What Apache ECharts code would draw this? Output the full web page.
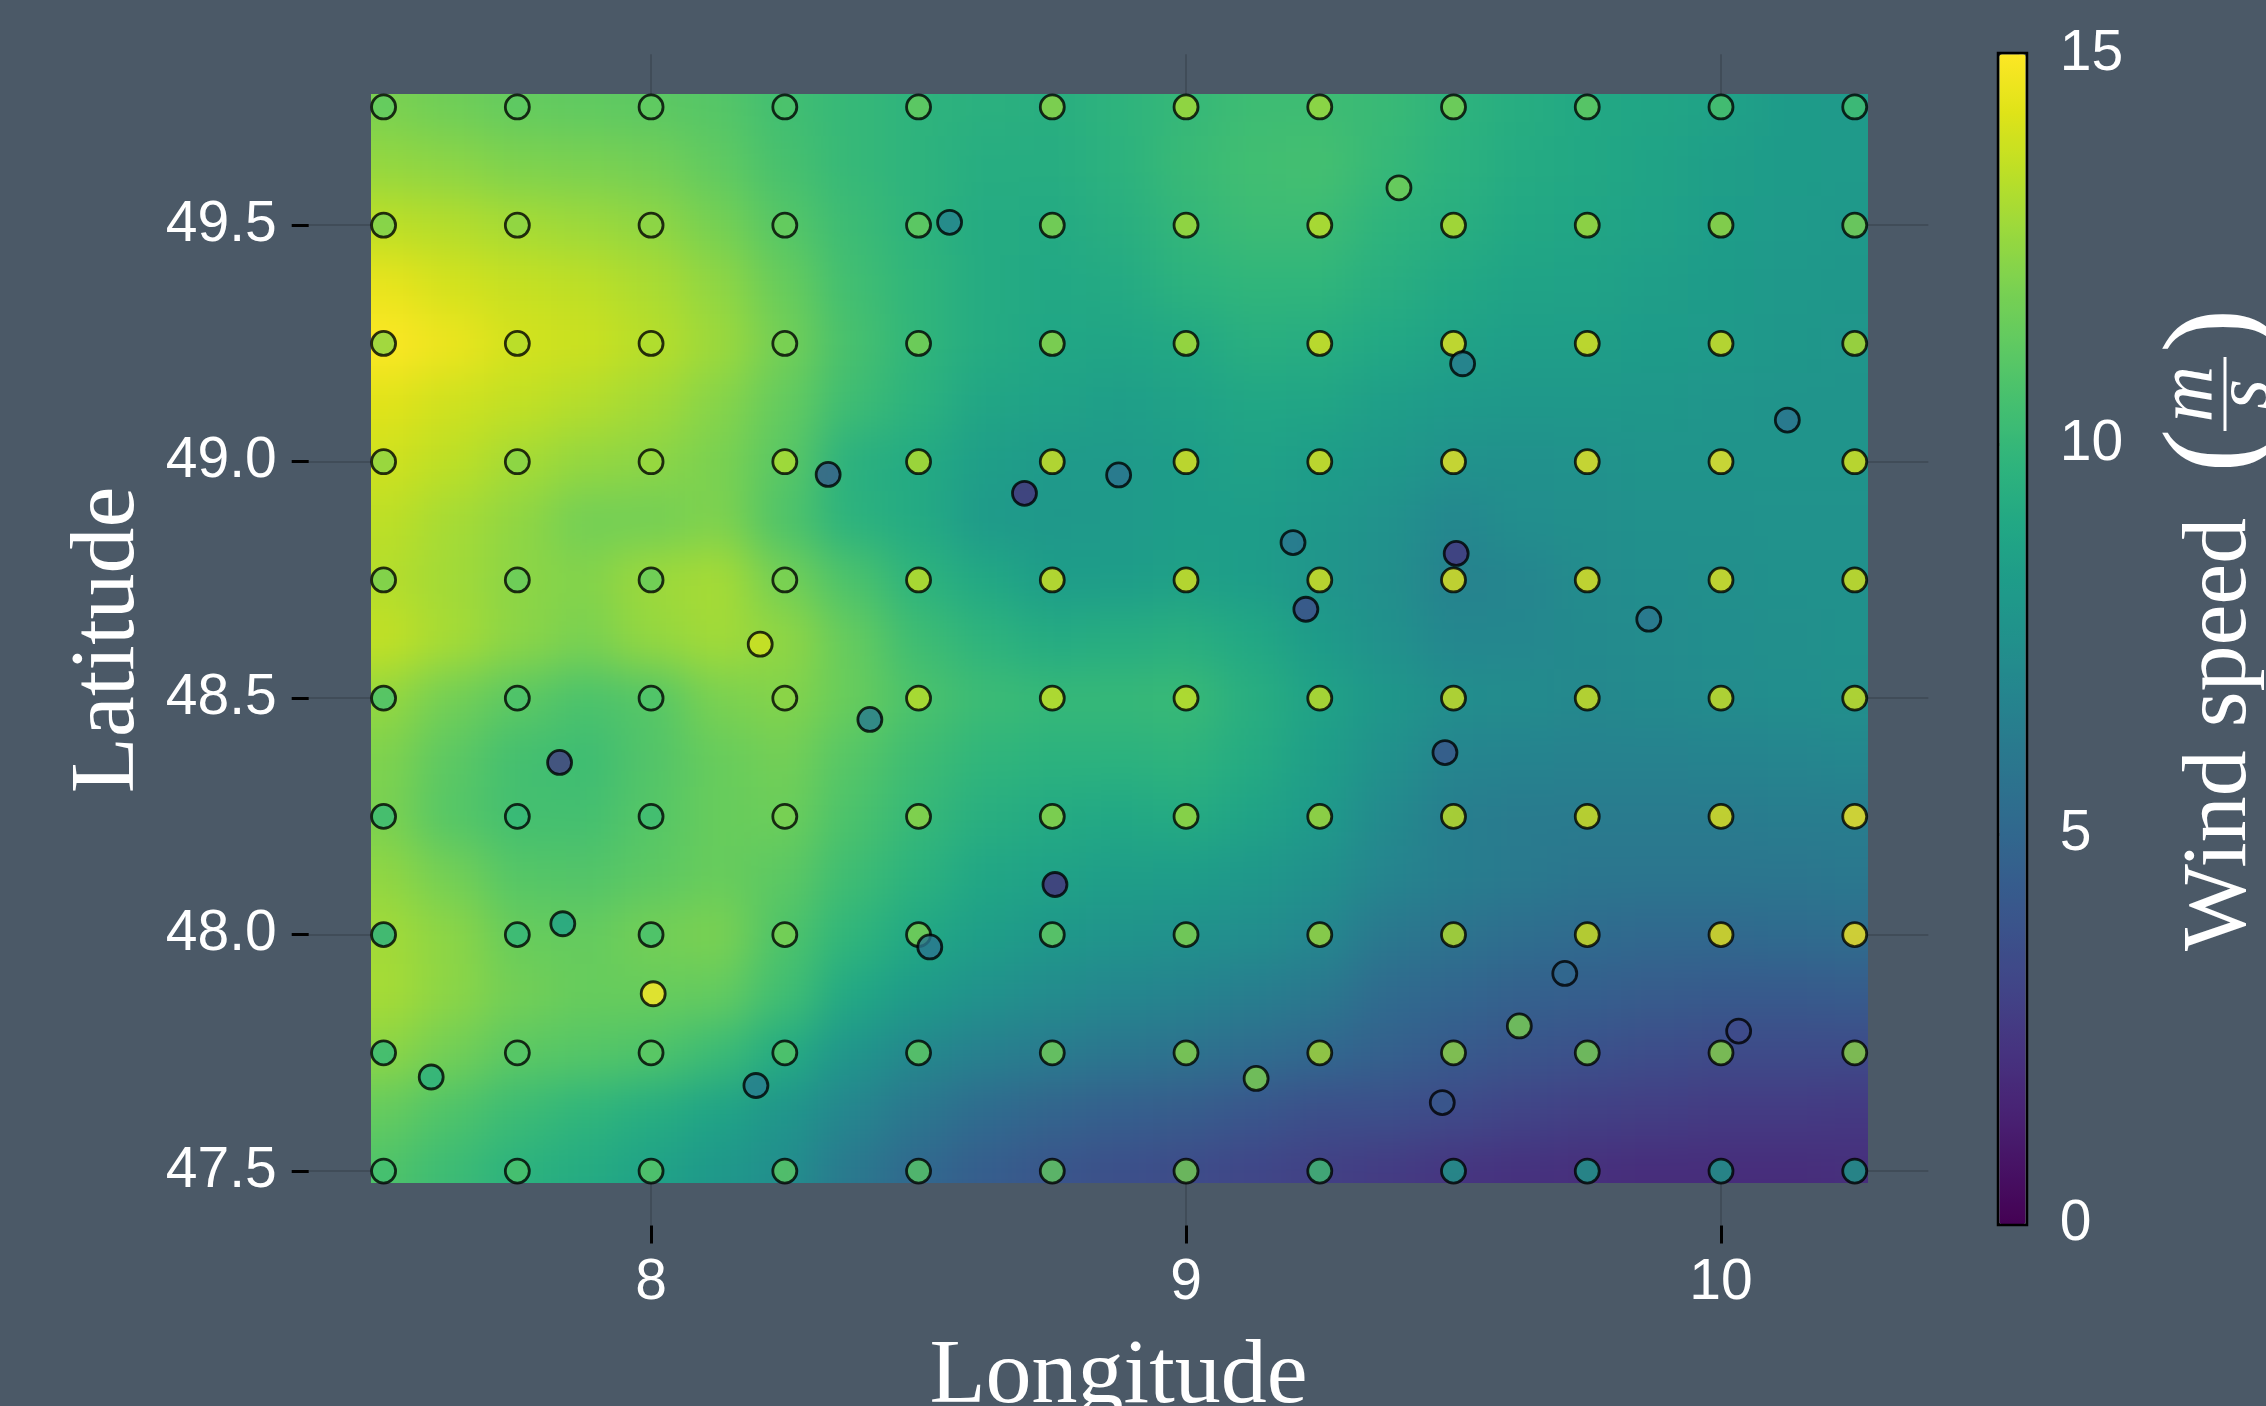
<!DOCTYPE html>
<html>
<head>
<meta charset="utf-8">
<script src="https://cdn.jsdelivr.net/npm/echarts@6.0.0/dist/echarts.min.js"></script>
<style>
html, body { margin: 0; padding: 0; background: #4b5967; }
.layer { position: absolute; left: 0; top: 0; width: 2266px; height: 1406px; }
#heat { filter: blur(22px); }
</style>
</head>
<body>
<div id="base" class="layer"></div>
<div id="heat" class="layer"></div>
<div id="pts" class="layer"></div>
<script>
// ---------------- data ----------------
// Interpolated background field, rows north -> south
const bgLons = [7.5, 7.625, 7.75, 7.875, 8.0, 8.125, 8.25, 8.375, 8.5, 8.625, 8.75, 8.875, 9.0, 9.125, 9.25, 9.375, 9.5, 9.625, 9.75, 9.875, 10.0, 10.125, 10.25];
const bgLats = [49.75, 49.625, 49.5, 49.375, 49.25, 49.125, 49.0, 48.875, 48.75, 48.625, 48.5, 48.375, 48.25, 48.125, 48.0, 47.875, 47.75, 47.625, 47.5];
const bgValues = [
  [12.0, 11.7, 11.4, 11.3, 11.2, 11.0, 10.4, 10.0, 9.7, 9.5, 9.4, 9.7, 10.0, 10.3, 10.3, 10.1, 9.7, 9.3, 9.0, 8.8, 8.6, 8.2, 8.1],
  [12.6, 12.4, 12.1, 12.0, 11.8, 11.3, 10.6, 10.0, 9.7, 9.3, 9.3, 9.6, 10.1, 10.4, 10.5, 10.0, 9.6, 9.2, 9.0, 8.7, 8.4, 8.2, 8.1],
  [13.5, 13.3, 13.0, 12.8, 12.5, 11.9, 11.0, 10.2, 9.7, 9.2, 9.1, 9.4, 9.9, 10.2, 10.2, 9.7, 9.4, 9.0, 8.8, 8.6, 8.3, 8.1, 8.0],
  [14.5, 14.0, 13.7, 13.5, 13.1, 12.5, 11.5, 10.4, 9.8, 9.2, 9.0, 9.1, 9.6, 9.8, 9.8, 9.4, 9.0, 8.7, 8.6, 8.4, 8.2, 8.0, 7.9],
  [15.0, 14.6, 14.0, 13.8, 13.4, 12.8, 11.8, 10.6, 9.8, 9.2, 8.9, 8.8, 9.0, 9.4, 9.3, 9.0, 8.6, 8.4, 8.4, 8.2, 8.1, 7.9, 7.8],
  [14.3, 13.9, 13.6, 13.3, 12.9, 12.3, 11.4, 10.3, 9.6, 8.8, 8.6, 8.4, 8.6, 8.9, 8.8, 8.4, 8.1, 8.0, 8.0, 7.9, 7.8, 7.7, 7.7],
  [13.9, 13.5, 13.0, 12.6, 12.4, 12.0, 11.1, 9.5, 9.1, 8.4, 8.1, 8.1, 8.3, 8.6, 8.3, 8.0, 7.6, 7.5, 7.6, 7.7, 7.7, 7.7, 7.7],
  [13.5, 13.0, 12.5, 11.8, 11.8, 12.1, 10.8, 9.6, 9.1, 8.1, 8.0, 8.1, 8.3, 8.3, 8.0, 7.6, 6.9, 7.3, 7.4, 7.5, 7.5, 7.6, 7.6],
  [13.3, 12.9, 12.4, 12.2, 12.8, 13.0, 11.8, 10.7, 9.7, 9.0, 8.3, 8.3, 8.5, 8.3, 7.8, 7.4, 6.6, 6.8, 7.2, 7.3, 7.4, 7.5, 7.5],
  [13.6, 13.0, 12.4, 12.0, 12.6, 12.9, 12.5, 11.4, 10.3, 9.7, 9.2, 9.3, 9.4, 9.0, 8.2, 7.5, 6.9, 6.9, 7.1, 7.2, 7.3, 7.4, 7.5],
  [12.6, 11.8, 11.2, 10.7, 11.0, 12.0, 12.2, 11.5, 10.7, 10.2, 10.0, 10.0, 10.1, 9.4, 8.6, 7.9, 7.3, 7.2, 7.0, 7.1, 7.2, 7.3, 7.4],
  [12.1, 11.2, 10.5, 10.3, 10.9, 11.5, 11.8, 11.0, 10.3, 9.8, 9.6, 9.6, 9.7, 9.2, 8.4, 7.5, 6.8, 6.7, 6.6, 6.6, 6.7, 6.8, 6.9],
  [12.0, 11.0, 10.5, 10.5, 11.0, 11.5, 11.6, 10.7, 10.0, 9.4, 9.1, 9.0, 9.2, 8.7, 8.1, 7.1, 6.4, 6.2, 6.2, 6.2, 6.2, 6.3, 6.3],
  [12.5, 11.8, 11.0, 10.9, 11.2, 11.5, 11.2, 10.3, 9.6, 8.9, 8.6, 8.4, 8.3, 8.0, 7.5, 6.8, 6.4, 6.1, 5.9, 5.9, 5.9, 5.9, 6.0],
  [12.9, 12.4, 11.5, 11.4, 11.8, 12.0, 10.8, 9.8, 9.0, 8.4, 8.0, 7.7, 7.5, 7.3, 6.9, 6.0, 5.7, 5.4, 5.2, 5.1, 5.1, 5.2, 5.3],
  [13.0, 12.4, 11.8, 11.5, 11.5, 11.4, 10.4, 9.0, 8.2, 7.6, 7.2, 6.9, 6.7, 6.4, 6.0, 5.2, 4.9, 4.6, 4.5, 4.3, 4.2, 4.2, 4.3],
  [12.4, 11.8, 11.2, 11.0, 10.8, 10.2, 9.2, 7.8, 7.0, 6.5, 6.2, 5.9, 5.6, 5.3, 5.0, 4.6, 4.2, 3.9, 3.7, 3.5, 3.4, 3.4, 3.4],
  [11.4, 10.8, 10.2, 9.8, 9.3, 8.7, 7.8, 6.8, 5.9, 5.2, 4.8, 4.5, 4.3, 4.0, 3.6, 3.6, 3.3, 3.0, 2.8, 2.7, 2.6, 2.6, 2.5],
  [10.8, 10.2, 9.6, 9.2, 8.6, 8.0, 7.3, 6.0, 5.0, 4.4, 3.9, 3.6, 3.4, 3.1, 2.8, 2.6, 2.3, 2.1, 2.0, 1.9, 1.9, 1.9, 2.0]
];

// Regular grid points (rows north -> south)
const gridLons = [7.5, 7.75, 8.0, 8.25, 8.5, 8.75, 9.0, 9.25, 9.5, 9.75, 10.0, 10.25];
const gridLats = [49.75, 49.5, 49.25, 49.0, 48.75, 48.5, 48.25, 48.0, 47.75, 47.5];
const gridValues = [
  [11.3, 11.2, 11.3, 10.8, 11.5, 12.5, 13.0, 12.8, 12.0, 11.4, 10.7, 10.5],
  [12.0, 12.4, 12.4, 11.5, 11.5, 12.2, 13.0, 13.6, 13.5, 13.0, 12.7, 12.0],
  [12.4, 13.3, 13.2, 12.0, 12.0, 12.5, 13.2, 14.2, 14.4, 14.3, 14.1, 13.3],
  [12.4, 12.3, 12.7, 13.2, 13.4, 14.0, 14.3, 14.3, 14.6, 14.6, 14.7, 14.2],
  [11.9, 11.5, 11.5, 12.0, 13.7, 14.0, 14.1, 14.2, 14.4, 14.4, 14.4, 14.1],
  [10.6, 10.7, 10.8, 12.4, 13.5, 13.8, 13.8, 13.7, 13.9, 14.0, 13.9, 13.9],
  [10.1, 10.0, 10.3, 12.0, 12.5, 12.5, 12.8, 13.0, 13.7, 14.1, 14.4, 14.8],
  [9.5, 9.9, 10.6, 12.0, 12.0, 11.4, 12.2, 12.8, 13.4, 14.0, 14.5, 14.8],
  [10.0, 11.0, 11.2, 11.0, 11.3, 11.8, 12.3, 13.0, 12.5, 12.0, 12.3, 12.4],
  [10.5, 10.7, 11.1, 11.2, 11.1, 11.4, 11.9, 10.4, 8.0, 8.0, 8.0, 8.0]
];

// Irregular stations
const stationLons = [8.558, 8.331, 8.698, 8.874, 9.200, 9.224, 9.398, 9.517, 10.124, 9.505, 9.865, 8.409, 8.755, 8.521, 9.131, 9.484, 9.708, 9.623, 10.033, 9.479, 7.829, 7.835, 8.004, 7.589, 8.196, 8.204];
const stationLats = [49.506, 48.973, 48.933, 48.972, 48.829, 48.688, 49.579, 49.207, 49.088, 48.806, 48.667, 48.455, 48.106, 47.974, 47.696, 48.385, 47.918, 47.807, 47.796, 47.645, 48.364, 48.023, 47.875, 47.699, 47.681, 48.614];
const stationValues = [6.7, 4.3, 2.0, 5.7, 5.8, 3.4, 11.8, 6.3, 5.7, 2.2, 5.8, 6.1, 2.0, 5.8, 12.1, 3.9, 5.0, 12.0, 3.3, 4.1, 2.6, 8.6, 15.0, 9.5, 6.3, 13.9];

const xTicks = [8, 9, 10];
const yTicks = [47.5, 48.0, 48.5, 49.0, 49.5];
const cbTicks = [0, 5, 10, 15];

// ---------------- style / layout ----------------
const VIRIDIS = ['#440154','#471365','#482475','#463480','#414487','#3b528b','#355f8d','#2f6c8e','#2a788e','#25848e','#21918c','#1e9c89','#22a884','#2fb47c','#44bf70','#5ec962','#7ad151','#9bd93c','#bddf26','#dfe318','#fde725'];
const BG = '#4b5967';
const GRIDC = '#404c58';
const X_MIN = 7.36, X_MAX = 10.3875, Y_MIN = 47.385, Y_MAX = 49.8615;
const EXT = { x0: 7.478, x1: 10.273, y0: 47.475, y1: 49.776 };
const GRID = { left: 308.7, top: 54.2, width: 1619.6, height: 1171.3 };
const W = 2266, H = 1406;

function hiddenAxes() {
  return {
    xAxis: { type: 'value', min: X_MIN, max: X_MAX, show: false, splitLine: { show: false } },
    yAxis: { type: 'value', min: Y_MIN, max: Y_MAX, show: false, splitLine: { show: false } }
  };
}
function vmap(show, seriesIndex, extra) {
  return Object.assign({
    type: 'continuous', min: 0, max: 15, dimension: 2, seriesIndex: seriesIndex,
    show: show, calculable: false, inRange: { color: VIRIDIS }, padding: 0
  }, extra || {});
}

// ---------------- base chart: axes, colorbar, titles ----------------
const base = echarts.init(document.getElementById('base'), null, { width: W, height: H });
const tickFont = { color: '#ffffff', fontSize: 57, fontFamily: 'Liberation Sans' };
const serif = '"Liberation Serif", "DejaVu Serif", serif';
const T = (text, x, y, font, align, extra) => Object.assign({
  type: 'text', x: x, y: y,
  style: { text: text, font: font, fill: '#fff', textAlign: align, textVerticalAlign: 'middle', align: align, verticalAlign: 'middle' }
}, extra || {});
base.setOption({
  backgroundColor: BG,
  animation: false,
  grid: [
    Object.assign({}, GRID),
    { left: 1999.3, top: 54.2, width: 26.4, height: 1170 }
  ],
  xAxis: [
    { type: 'value', gridIndex: 0, min: X_MIN, max: X_MAX,
      axisLine: { show: false },
      axisTick: { show: true, customValues: xTicks, length: 18, lineStyle: { color: '#000', width: 3 } },
      axisLabel: Object.assign({ customValues: xTicks, margin: 29, formatter: v => String(v) }, tickFont),
      splitLine: { show: true, lineStyle: { color: GRIDC, width: 2 } } },
    { type: 'value', gridIndex: 1, min: 0, max: 1, show: false }
  ],
  yAxis: [
    { type: 'value', gridIndex: 0, min: Y_MIN, max: Y_MAX,
      axisLine: { show: false },
      axisTick: { show: true, customValues: yTicks, length: 17, lineStyle: { color: '#000', width: 3 } },
      axisLabel: Object.assign({ customValues: yTicks, margin: 32, formatter: v => v.toFixed(1) }, tickFont),
      splitLine: { show: true, lineStyle: { color: GRIDC, width: 2 } } },
    { type: 'value', gridIndex: 1, position: 'right', min: cbTicks[0], max: cbTicks[cbTicks.length - 1], interval: 5,
      axisLine: { show: false },
      axisTick: { show: true, length: 20, lineStyle: { color: '#000', width: 3 } },
      axisLabel: Object.assign({ margin: 34 }, tickFont),
      splitLine: { show: false } }
  ],
  visualMap: vmap(true, 0, { left: 1999.3, top: 54.2, itemWidth: 26.4, itemHeight: 1170 }),
  series: [{ type: 'scatter', xAxisIndex: 1, yAxisIndex: 1, data: [], silent: true }],
  graphic: [
    { type: 'rect', z: 100, shape: { x: 1998, y: 53, width: 29, height: 1172 },
      style: { fill: 'none', stroke: '#000', lineWidth: 2.5 } },
    T('Longitude', 1118.5, 1378, '92px ' + serif, 'center', { z: 100 }),
    T('Latitude', 109, 640, '92px ' + serif, 'center', { z: 100, rotation: Math.PI / 2 }),
    { type: 'group', x: 2252, y: 951, rotation: Math.PI / 2, z: 100, children: [
      T('Wind speed', 0, -31, '92px ' + serif, 'left'),
      T('(', 478, -32, '134px ' + serif, 'left'),
      T('m', 557, -61, 'italic 78px ' + serif, 'center'),
      { type: 'line', shape: { x1: 520, y1: -27, x2: 594, y2: -27 }, style: { stroke: '#fff', lineWidth: 3 } },
      T('s', 557, -5, 'italic 78px ' + serif, 'center'),
      T(')', 598, -32, '134px ' + serif, 'left')
    ] }
  ]
});

// ---------------- heat layer (cells from bgValues) ----------------
const heatData = [];
bgLats.forEach((lat, i) => bgLons.forEach((lon, j) => heatData.push([lon, lat, bgValues[i][j]])));
const HX = 0.0625, HY = 0.0625, PADX = 0.3, PADY = 0.3;
const lonMin = Math.min(...bgLons), lonMax = Math.max(...bgLons);
const latMin = Math.min(...bgLats), latMax = Math.max(...bgLats);
function renderCell(params, api) {
  const lon = api.value(0), lat = api.value(1);
  const xa = lon === lonMin ? lon - PADX : lon - HX;
  const xb = lon === lonMax ? lon + PADX : lon + HX;
  const ya = lat === latMin ? lat - PADY : lat - HY;
  const yb = lat === latMax ? lat + PADY : lat + HY;
  const p0 = api.coord([xa, yb]);
  const p1 = api.coord([xb, ya]);
  const x = Math.round(p0[0]), y = Math.round(p0[1]);
  return { type: 'rect', shape: { x: x, y: y, width: Math.round(p1[0]) - x, height: Math.round(p1[1]) - y },
           style: { fill: api.visual('color') } };
}
const heat = echarts.init(document.getElementById('heat'), null, { width: W, height: H });
const ha = hiddenAxes();
heat.setOption({
  animation: false,
  grid: Object.assign({}, GRID),
  xAxis: ha.xAxis, yAxis: ha.yAxis,
  visualMap: vmap(false, 0),
  series: [{ type: 'custom', renderItem: renderCell, data: heatData, encode: { x: 0, y: 1 }, clip: false, silent: true }]
});
const c0 = heat.convertToPixel({ gridIndex: 0 }, [EXT.x0, EXT.y1]);
const c1 = heat.convertToPixel({ gridIndex: 0 }, [EXT.x1, EXT.y0]);
document.getElementById('heat').style.clipPath =
  `inset(${c0[1]}px ${W - c1[0]}px ${H - c1[1]}px ${c0[0]}px)`;

// ---------------- points layer ----------------
const gridPts = [];
gridLats.forEach((lat, i) => gridLons.forEach((lon, j) => gridPts.push([lon, lat, gridValues[i][j]])));
const stationPts = stationLons.map((lon, k) => [lon, stationLats[k], stationValues[k]]);
const pts = echarts.init(document.getElementById('pts'), null, { width: W, height: H });
const pa = hiddenAxes();
const markerStyle = { borderColor: '#000', borderWidth: 2.8 };
pts.setOption({
  animation: false,
  grid: Object.assign({}, GRID),
  xAxis: pa.xAxis, yAxis: pa.yAxis,
  visualMap: vmap(false, [0, 1]),
  series: [
    { type: 'scatter', data: gridPts, symbol: 'circle', symbolSize: 24, itemStyle: markerStyle, silent: true, clip: false },
    { type: 'scatter', data: stationPts, symbol: 'circle', symbolSize: 24, itemStyle: markerStyle, silent: true, clip: false }
  ]
});
</script>
</body>
</html>
